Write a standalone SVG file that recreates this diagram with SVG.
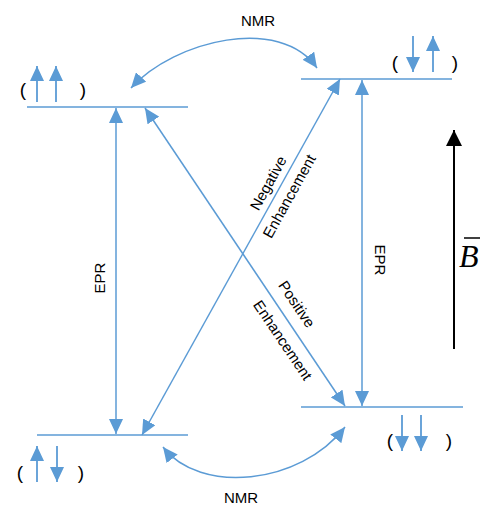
<svg xmlns="http://www.w3.org/2000/svg" width="481" height="507" viewBox="0 0 481 507">
<defs>
<marker id="ah" markerUnits="userSpaceOnUse" markerWidth="15" markerHeight="14" refX="15" refY="7" orient="auto-start-reverse" viewBox="0 0 15 14"><path d="M0,0 L15,7 L0,14 z" fill="#5B9BD5"/></marker>
<marker id="bh" markerUnits="userSpaceOnUse" markerWidth="16" markerHeight="16" refX="16" refY="8" orient="auto" viewBox="0 0 16 16"><path d="M0,0 L16,8 L0,16 z" fill="#000"/></marker>
<style>
.lv{stroke:#5B9BD5;stroke-width:1.5;fill:none}
.cn{stroke:#5B9BD5;stroke-width:1.5;fill:none}
.sp{stroke:#5B9BD5;stroke-width:1.8;fill:none;marker-end:url(#ah)}
.t{font-family:"Liberation Sans",Arial,sans-serif;font-size:15px;fill:#000}
.p{font-family:"Liberation Sans",Arial,sans-serif;font-size:19px;fill:#000;text-anchor:middle}
</style>
</defs>
<g id="level-up-up">
<line class="lv" x1="27" y1="107" x2="188" y2="107"/>
<text class="p" x="23" y="96">(</text>
<line class="sp" x1="37" y1="102" x2="37" y2="66"/>
<line class="sp" x1="56" y1="102" x2="56" y2="66"/>
<text class="p" x="83" y="96">)</text>
</g>
<g id="level-down-up">
<line class="lv" x1="301" y1="79" x2="452" y2="79"/>
<text class="p" x="395" y="69">(</text>
<line class="sp" x1="413" y1="36" x2="413" y2="72"/>
<line class="sp" x1="433" y1="72" x2="433" y2="36"/>
<text class="p" x="455" y="69">)</text>
</g>
<g id="level-up-down">
<line class="lv" x1="37" y1="435" x2="188" y2="435"/>
<text class="p" x="20" y="479">(</text>
<line class="sp" x1="37" y1="482" x2="37" y2="446"/>
<line class="sp" x1="57" y1="446" x2="57" y2="482"/>
<text class="p" x="81" y="479">)</text>
</g>
<g id="level-down-down">
<line class="lv" x1="301" y1="407" x2="463" y2="407"/>
<text class="p" x="390" y="447">(</text>
<line class="sp" x1="402" y1="415" x2="402" y2="451"/>
<line class="sp" x1="421" y1="415" x2="421" y2="451"/>
<text class="p" x="449" y="447">)</text>
</g>
<g id="connectors">
<path class="cn" d="M131,88 C175,40 280,15 317,68" marker-start="url(#ah)" marker-end="url(#ah)"/>
<text class="t" x="258" y="26" text-anchor="middle">NMR</text>
<path class="cn" d="M163,447 C200,495 300,485 345,427" marker-start="url(#ah)" marker-end="url(#ah)"/>
<text class="t" x="241" y="503" text-anchor="middle">NMR</text>
<line class="cn" x1="116" y1="108" x2="116" y2="434" marker-start="url(#ah)" marker-end="url(#ah)"/>
<text class="t" x="0" y="0" text-anchor="middle" dominant-baseline="central" font-size="13" transform="translate(99,278) rotate(-90)">EPR</text>
<line class="cn" x1="362" y1="80" x2="362" y2="406" marker-start="url(#ah)" marker-end="url(#ah)"/>
<text class="t" x="0" y="0" text-anchor="middle" dominant-baseline="central" font-size="13" transform="translate(380,260) rotate(90)">EPR</text>
<line class="cn" x1="340" y1="79" x2="142" y2="435" marker-start="url(#ah)" marker-end="url(#ah)"/>
<text class="t" x="0" y="0" text-anchor="middle" dominant-baseline="central" transform="translate(268,183) rotate(-61)">Negative</text>
<text class="t" x="0" y="0" text-anchor="middle" dominant-baseline="central" transform="translate(289,196) rotate(-61)">Enhancement</text>
<line class="cn" x1="145" y1="108" x2="345" y2="406" marker-start="url(#ah)" marker-end="url(#ah)"/>
<text class="t" x="0" y="0" text-anchor="middle" dominant-baseline="central" transform="translate(297,304) rotate(56)">Positive</text>
<text class="t" x="0" y="0" text-anchor="middle" dominant-baseline="central" transform="translate(283,340) rotate(56)">Enhancement</text>
</g>
<g id="field">
<line x1="454" y1="349" x2="454" y2="130" stroke="#000" stroke-width="2" marker-end="url(#bh)"/>
<line x1="464" y1="238" x2="480" y2="238" stroke="#000" stroke-width="1.5"/>
<text x="459" y="267" font-family="'Liberation Serif','Times New Roman',serif" font-style="italic" font-size="32" fill="#000">B</text>
</g>
</svg>
